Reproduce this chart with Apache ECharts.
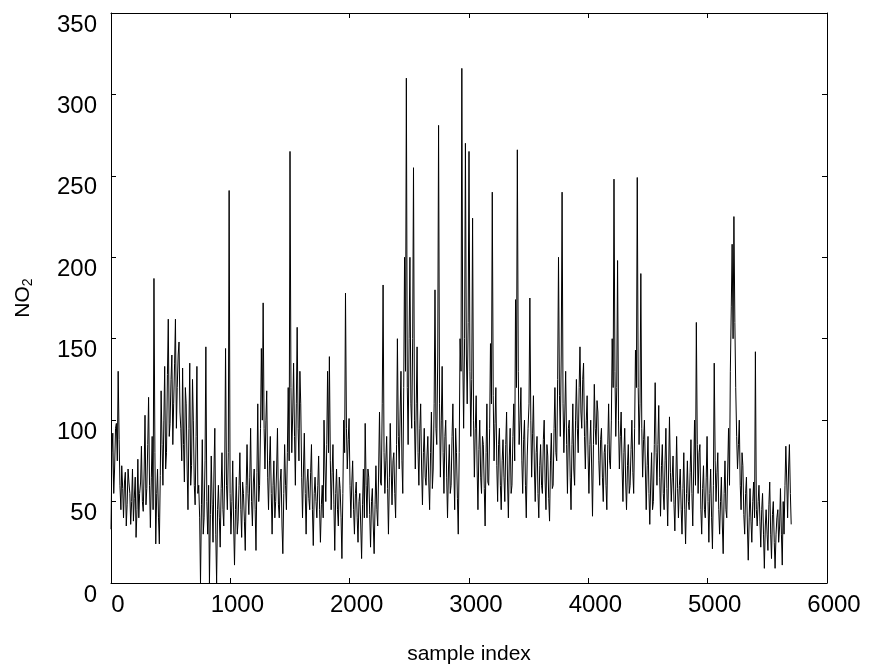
<!DOCTYPE html>
<html>
<head>
<meta charset="utf-8">
<script src="https://cdn.jsdelivr.net/npm/echarts@6/dist/echarts.min.js"></script>
<style>
html,body{margin:0;padding:0;background:#fff;}
#chart{width:869px;height:670px;}
</style>
</head>
<body>
<div id="chart"></div>
<script>
// sample index step between the main read-off values
var sampleStep = 15;
// offset of the in-between read-off values
var midOffset = 8;
// NO2 values at sample i*sampleStep (0 .. 5700)
var no2Values = [
  33, 92, 70, 98, 130, 60, 72, 40, 68, 48, 62, 36, 70, 52, 28, 76, 55, 84, 44, 103,
  58, 114, 34, 90, 187, 24, 70, 24, 118, 60, 133, 80, 162, 98, 140, 110, 162, 120, 148, 95,
  132, 62, 110, 45, 135, 72, 100, 48, 133, 60, 0, 88, 40, 145, 30, 0, 78, 25, 95, 0,
  60, 22, 80, 35, 144, 45, 241, 30, 75, 11, 65, 38, 80, 28, 55, 20, 85, 42, 95, 35,
  70, 20, 110, 60, 144, 172, 70, 118, 45, 90, 30, 75, 50, 95, 40, 70, 18, 85, 45, 120,
  265, 80, 135, 60, 157, 75, 110, 40, 92, 30, 70, 45, 85, 23, 65, 40, 78, 25, 60, 100,
  50, 130, 139, 45, 85, 20, 70, 35, 58, 15, 100, 178, 70, 101, 40, 75, 30, 62, 25, 55,
  15, 70, 98, 40, 65, 22, 58, 18, 72, 35, 105, 60, 183, 55, 90, 30, 98, 48, 80, 40,
  150, 70, 130, 55, 200, 310, 85, 200, 95, 255, 70, 145, 60, 110, 48, 95, 60, 90, 45, 105,
  70, 180, 85, 281, 65, 133, 55, 100, 40, 85, 60, 110, 45, 80, 30, 150, 316, 95, 270, 110,
  265, 90, 224, 65, 115, 45, 100, 55, 85, 35, 110, 60, 147, 240, 75, 120, 50, 95, 45, 88,
  50, 105, 40, 95, 60, 110, 174, 266, 85, 120, 55, 100, 40, 95, 175, 65, 115, 50, 90, 40,
  85, 55, 100, 45, 78, 38, 92, 60, 120, 75, 200, 90, 240, 80, 130, 55, 100, 45, 110, 60,
  125, 80, 145, 95, 135, 70, 115, 55, 100, 41, 122, 85, 105, 60, 95, 50, 85, 45, 110, 70,
  150, 248, 90, 198, 70, 105, 50, 95, 45, 85, 60, 100, 55, 143, 249, 85, 190, 65, 100, 45,
  90, 36, 80, 50, 123, 60, 109, 41, 85, 45, 95, 35, 102, 50, 78, 32, 90, 40, 70, 30,
  80, 24, 75, 45, 88, 35, 100, 160, 55, 85, 30, 72, 40, 90, 25, 70, 21, 135, 50, 80,
  30, 65, 18, 75, 40, 95, 130, 208, 225, 120, 70, 100, 45, 72, 30, 65, 14, 58, 25, 62,
  142, 35, 60, 22, 55, 9, 45, 20, 62, 15, 50, 9, 40, 25, 58, 11, 30, 84, 40, 85, 36
];
// NO2 values read in between, at sample i*sampleStep + midOffset
var no2Between = [
  80, 55, 95, 75, 88, 45, 58, 62, 35, 70, 55, 50, 38, 65, 45, 40, 62, 50, 70, 48,
  85, 60, 65, 45, 80, 55, 40, 66, 85, 100, 70, 128, 90, 125, 85, 135, 95, 140, 105, 75,
  85, 120, 70, 95, 60, 125, 60, 90, 55, 40, 48, 30, 75, 50, 60, 42, 48, 70, 30, 45,
  40, 58, 45, 70, 60, 80, 55, 50, 35, 45, 30, 60, 45, 62, 38, 60, 55, 65, 50, 62,
  45, 68, 50, 95, 100, 95, 100, 65, 75, 55, 60, 40, 70, 48, 62, 35, 55, 60, 80, 75,
  120, 105, 90, 110, 95, 130, 65, 70, 55, 62, 52, 68, 45, 55, 50, 60, 45, 48, 40, 70,
  85, 80, 75, 68, 48, 55, 45, 65, 40, 55, 80, 95, 88, 60, 62, 45, 55, 40, 50, 35,
  48, 40, 60, 70, 42, 50, 35, 48, 45, 70, 62, 110, 80, 75, 58, 65, 70, 75, 55, 85,
  90, 105, 75, 120, 130, 120, 150, 110, 150, 100, 110, 80, 95, 70, 80, 65, 78, 62, 80, 58,
  110, 95, 140, 110, 100, 80, 90, 65, 70, 55, 90, 70, 95, 52, 80, 130, 140, 150, 140, 160,
  130, 125, 100, 95, 70, 82, 65, 90, 58, 80, 62, 95, 110, 115, 98, 72, 85, 60, 75, 65,
  85, 62, 78, 55, 90, 75, 120, 130, 100, 75, 88, 60, 78, 110, 100, 92, 70, 80, 55, 72,
  60, 88, 62, 85, 52, 75, 58, 95, 80, 125, 115, 140, 110, 105, 85, 95, 65, 85, 70, 100,
  95, 120, 105, 125, 90, 100, 78, 85, 70, 85, 95, 112, 75, 88, 65, 80, 60, 85, 75, 100,
  120, 130, 120, 100, 90, 70, 80, 62, 72, 55, 82, 68, 95, 120, 120, 110, 95, 88, 70, 72,
  55, 62, 45, 85, 80, 85, 65, 72, 55, 75, 58, 70, 68, 65, 48, 62, 58, 60, 45, 58,
  45, 55, 50, 68, 55, 70, 60, 85, 80, 45, 58, 45, 65, 50, 55, 40, 60, 75, 68, 45,
  50, 35, 55, 45, 70, 60, 170, 150, 160, 90, 85, 60, 80, 42, 55, 35, 40, 38, 50, 40,
  45, 50, 38, 45, 30, 35, 30, 48, 30, 42, 25, 30, 45, 35, 30, 50, 60, 62, 70, 55
];
var xTickValues = [0, 1000, 2000, 3000, 4000, 5000, 6000];
var yTickValues = [0, 50, 100, 150, 200, 250, 300, 350];

var seriesData = [];
no2Values.forEach(function (v, i) {
  seriesData.push([i * sampleStep, v]);
  if (i < no2Between.length) seriesData.push([i * sampleStep + midOffset, no2Between[i]]);
});

var font = 'Liberation Sans, Arial, sans-serif';
var xMin = xTickValues[0], xMax = xTickValues[xTickValues.length - 1];
var yMin = yTickValues[0], yMax = yTickValues[yTickValues.length - 1];
var tick = {show: true, inside: true, length: 5, lineStyle: {color: '#000', width: 1}};
var line = {show: true, onZero: false, lineStyle: {color: '#000', width: 1}};
var plain = function (v) { return String(v); };

var chart = echarts.init(document.getElementById('chart'), null, {renderer: 'canvas'});
chart.setOption({
  animation: false,
  backgroundColor: '#fff',
  grid: {left: 111, right: 42, top: 13, bottom: 82},
  xAxis: [{
    type: 'value', min: xMin, max: xMax, interval: 1000,
    name: 'sample index', nameLocation: 'middle', nameGap: 61,
    nameTextStyle: {fontFamily: font, fontSize: 21, color: '#000'},
    axisLine: line, axisTick: tick,
    axisLabel: {fontFamily: font, fontSize: 24, color: '#000', margin: 10, padding: [0, 0, 0, 14], formatter: plain},
    splitLine: {show: false}
  }, {
    type: 'value', position: 'top', min: xMin, max: xMax, interval: 1000,
    axisLine: line, axisTick: tick,
    axisLabel: {show: false}, splitLine: {show: false}
  }],
  yAxis: [{
    type: 'value', min: yMin, max: yMax, interval: 50,
    name: 'NO{sub|2}', nameLocation: 'middle', nameGap: 76, nameRotate: 90,
    nameTextStyle: {fontFamily: font, fontSize: 21, color: '#000',
      rich: {sub: {fontFamily: font, fontSize: 14, color: '#000', verticalAlign: 'bottom', padding: [10, 0, 0, 0]}}},
    axisLine: line, axisTick: tick,
    axisLabel: {fontFamily: font, fontSize: 24, color: '#000', margin: 14, verticalAlign: 'top', formatter: plain},
    splitLine: {show: false}
  }, {
    type: 'value', position: 'right', min: yMin, max: yMax, interval: 50,
    axisLine: line, axisTick: tick,
    axisLabel: {show: false}, splitLine: {show: false}
  }],
  series: [{
    type: 'line',
    data: seriesData,
    showSymbol: false,
    symbol: 'none',
    lineStyle: {color: '#000', width: 1},
    silent: true
  }, {
    type: 'line', xAxisIndex: 1, yAxisIndex: 1, data: [], symbol: 'none', silent: true
  }]
});
</script>
</body>
</html>
